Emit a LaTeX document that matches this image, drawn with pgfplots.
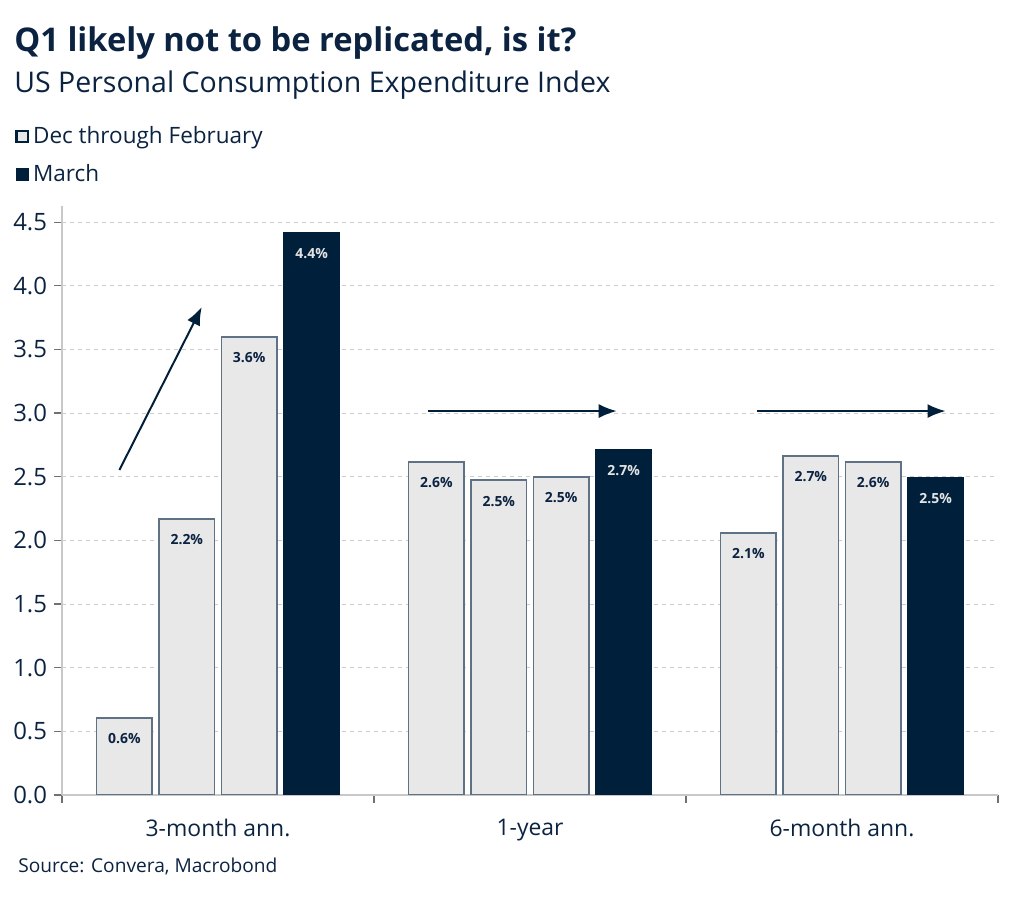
\documentclass[border=0pt]{standalone}
\usepackage{pgfplots}
\pgfplotsset{compat=1.18}
\usepackage{fontspec}
\setmainfont{Open Sans}
\usetikzlibrary{arrows.meta}
\definecolor{navy}{HTML}{001F3A}
\definecolor{txt}{HTML}{0B2341}
\definecolor{lightbar}{HTML}{E8E8E8}
\definecolor{barline}{HTML}{5E7185}
\definecolor{gridc}{HTML}{CCCCCC}
\definecolor{axisc}{HTML}{C8C8C8}
\definecolor{tickc}{HTML}{707070}
\definecolor{lbl}{HTML}{E3E3E3}
\begin{document}
\begin{tikzpicture}
\useasboundingbox (0,0) rectangle (512bp,449bp);
\node[anchor=base west, text=txt, font=\fontsize{16.4}{19}\selectfont\bfseries, inner sep=0] at (7bp,423bp) {Q1 likely not to be replicated, is it?};
\node[anchor=base west, text=txt, font=\fontsize{14.3}{17}\selectfont, inner sep=0] at (7bp,402.5bp) {US Personal Consumption Expenditure Index};
\node[anchor=base west, text=txt, font=\fontsize{9.6}{11}\selectfont, inner sep=0] at (9bp,13bp) {Source: Convera, Macrobond};
\begin{axis}[
  scale only axis, width=468bp, height=294.7bp,
  at={(31bp,51.5bp)}, anchor=south west,
  xmin=-2.5, xmax=12.5, ymin=0, ymax=4.63,
  axis lines*=left,
  axis line style={draw=axisc, line width=1bp},
  ytick={0,0.5,1,1.5,2,2.5,3,3.5,4,4.5},
  yticklabel style={font=\fontsize{12}{14}\selectfont, text=txt,
     /pgf/number format/fixed, /pgf/number format/fixed zerofill, /pgf/number format/precision=1, /pgf/number format/assume math mode=true},
  ymajorgrids,
  major grid style={draw=gridc, dash pattern=on 2bp off 2bp, line width=0.5bp},
  tick align=outside, major tick length=4bp,
  ytick style={draw=tickc, line width=0.6bp},
  xtick={-2.5,2.5,7.5,12.5}, xticklabels={},
  xtick style={draw=tickc, line width=0.8bp},
  extra x ticks={0,5,10},
  extra x tick labels={3-month ann.,1-year,6-month ann.},
  extra x tick style={major tick length=0pt, tick style={draw=none}, xmajorgrids=false,
     tick label style={font=\fontsize{11.5}{14}\selectfont, text=txt, yshift=-8.5bp}},
  legend style={at={(axis description cs:-0.0502,1.142)}, anchor=north west, draw=none, fill=none,
     font=\fontsize{11.3}{13}\selectfont, text=txt, row sep=5bp, inner sep=0pt},
  legend cell align=left,
]
\addplot[ybar, bar width=0.89, bar shift=0pt, fill=lightbar, draw=barline, line width=0.75bp,
  legend image code/.code={\draw[draw=navy, fill=lightbar, line width=1.2bp] (0bp,-2.8bp) rectangle (5.6bp,2.8bp);},
  nodes near coords={\pgfmathprintnumber[fixed,fixed zerofill,precision=1,assume math mode=true]{\pgfplotspointmeta}\%},
  every node near coord/.append style={text=txt, font=\fontsize{7}{8}\selectfont\bfseries, anchor=center, yshift=-10.5bp}]
  coordinates {(-1.5,0.605) (-0.5,2.168) (0.5,3.598) (3.5,2.616) (4.5,2.474) (5.5,2.498) (8.5,2.06) (9.5,2.663) (10.5,2.616)};
\addlegendentry{Dec through February}
\addplot[ybar, bar width=0.89, bar shift=0pt, fill=navy, draw=navy, line width=0.75bp,
  legend image code/.code={\draw[draw=navy, fill=navy, line width=0.5bp] (0bp,-3bp) rectangle (6bp,3bp);},
  nodes near coords={\pgfmathprintnumber[fixed,fixed zerofill,precision=1,assume math mode=true]{\pgfplotspointmeta}\%},
  every node near coord/.append style={text=lbl, font=\fontsize{7}{8}\selectfont\bfseries, anchor=center, yshift=-10.5bp}]
  coordinates {(1.5,4.42) (6.5,2.71) (11.5,2.49)};
\addlegendentry{March}
\addplot[navy, line width=1bp, -{Latex[length=9bp,width=7bp]}, forget plot] coordinates {(-1.58,2.553) (-0.26,3.833)};
\addplot[navy, line width=1bp, -{Latex[length=9bp,width=7bp]}, forget plot] coordinates {(3.37,3.016) (6.39,3.016)};
\addplot[navy, line width=1bp, -{Latex[length=9bp,width=7bp]}, forget plot] coordinates {(8.64,3.016) (11.66,3.016)};
\end{axis}
\end{tikzpicture}
\end{document}
